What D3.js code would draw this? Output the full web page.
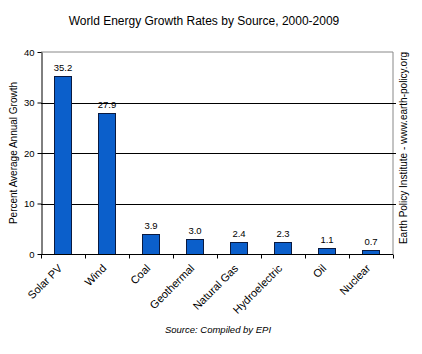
<!DOCTYPE html>
<html>
<head>
<meta charset="utf-8">
<script src="https://cdn.jsdelivr.net/npm/d3@7"></script>
<style>
  body { margin: 0; background: #fff; }
  text { font-family: "Liberation Sans", Arial, sans-serif; }
</style>
</head>
<body>
<svg id="chart" width="422" height="354"></svg>
<script>
// Data
const sources = ["Solar PV", "Wind", "Coal", "Geothermal", "Natural Gas", "Hydroelectric", "Oil", "Nuclear"];
const growthRates = [35.2, 27.9, 3.9, 3.0, 2.4, 2.3, 1.1, 0.7];
const yTicks = [0, 10, 20, 30, 40];

const svg = d3.select("#chart");
const plot = { left: 41, right: 393, top: 52, bottom: 254 };

const x = d3.scaleBand()
    .domain(sources)
    .range([plot.left, plot.right])
    .paddingInner(0.61)
    .paddingOuter(0.305);

const y = d3.scaleLinear()
    .domain([0, 40])
    .range([plot.bottom, plot.top]);

svg.append("rect").attr("width", 422).attr("height", 354).attr("fill", "#fff");

// Title
svg.append("text")
    .attr("x", 204)
    .attr("y", 25)
    .attr("text-anchor", "middle")
    .attr("font-size", 12)
    .attr("fill", "#000")
    .text("World Energy Growth Rates by Source, 2000-2009");

// Plot border (top + right are gray)
svg.append("path")
    .attr("d", `M${plot.left},${plot.top}H${plot.right}V${plot.bottom}`)
    .attr("fill", "none")
    .attr("stroke", "#888")
    .attr("stroke-width", 1);

// Gridlines
svg.append("g")
    .selectAll("line")
    .data(yTicks.filter(d => d > 0 && d < 40))
    .join("line")
    .attr("x1", plot.left)
    .attr("x2", plot.right + 3)
    .attr("y1", d => Math.round(y(d)) + 0.5)
    .attr("y2", d => Math.round(y(d)) + 0.5)
    .attr("stroke", "#000")
    .attr("stroke-width", 1);

// Bars
svg.append("g")
    .selectAll("rect")
    .data(growthRates)
    .join("rect")
    .attr("x", (d, i) => Math.round(x(sources[i])) + 0.5)
    .attr("y", d => Math.round(y(d)) + 0.5)
    .attr("width", Math.round(x.bandwidth()))
    .attr("height", d => Math.round(y(0)) - Math.round(y(d)))
    .attr("fill", "#0b5fcb")
    .attr("stroke", "#0a1a40")
    .attr("stroke-width", 1);

// Value labels
svg.append("g")
    .selectAll("text")
    .data(growthRates)
    .join("text")
    .attr("x", (d, i) => x(sources[i]) + x.bandwidth() / 2)
    .attr("y", d => y(d) - 5)
    .attr("text-anchor", "middle")
    .attr("font-size", 9.5)
    .attr("fill", "#000")
    .text(d => d.toFixed(1));

// Left axis
const yAxis = svg.append("g")
    .attr("transform", `translate(${plot.left + 0.5},0)`)
    .call(d3.axisLeft(y).tickValues(yTicks).tickSize(4).tickPadding(3).tickSizeOuter(0));
yAxis.select(".domain").attr("stroke", "#000");
yAxis.selectAll("text").attr("font-size", 9.5).attr("fill", "#000")
    .attr("font-family", "'Liberation Sans', Arial, sans-serif");

// Bottom axis with ticks between categories
const bottomY = Math.round(plot.bottom) + 0.5;
svg.append("line")
    .attr("x1", plot.left).attr("x2", plot.right)
    .attr("y1", bottomY).attr("y2", bottomY)
    .attr("stroke", "#000");
const step = x.step();
svg.append("g")
    .selectAll("line")
    .data(d3.range(sources.length + 1))
    .join("line")
    .attr("x1", i => Math.round(plot.left + i * step) + 0.5)
    .attr("x2", i => Math.round(plot.left + i * step) + 0.5)
    .attr("y1", bottomY)
    .attr("y2", bottomY + 4)
    .attr("stroke", "#000");

// Category labels
svg.append("g")
    .selectAll("text")
    .data(sources)
    .join("text")
    .attr("transform", d => `translate(${x(d) + x.bandwidth() / 2},${plot.bottom + 15}) rotate(-45)`)
    .attr("text-anchor", "end")
    .attr("font-size", 11)
    .attr("fill", "#000")
    .text(d => d);

// Y axis title
svg.append("text")
    .attr("transform", `translate(17,${(plot.top + plot.bottom) / 2}) rotate(-90)`)
    .attr("text-anchor", "middle")
    .attr("font-size", 10)
    .attr("fill", "#000")
    .text("Percent Average Annual Growth");

// Right credit
svg.append("text")
    .attr("transform", `translate(407,148) rotate(-90)`)
    .attr("text-anchor", "middle")
    .attr("font-size", 10)
    .attr("fill", "#000")
    .text("Earth Policy Institute - www.earth-policy.org");

// Source note
svg.append("text")
    .attr("x", 218)
    .attr("y", 333)
    .attr("text-anchor", "middle")
    .attr("font-size", 9.5)
    .attr("font-style", "italic")
    .attr("fill", "#000")
    .text("Source: Compiled by EPI");
</script>
</body>
</html>
